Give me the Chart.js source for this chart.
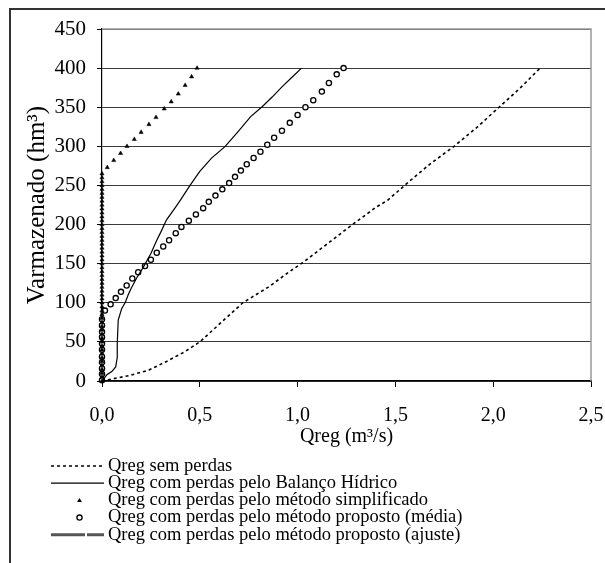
<!DOCTYPE html>
<html>
<head>
<meta charset="utf-8">
<script src="https://cdn.jsdelivr.net/npm/chart.js@4.4.1/dist/chart.umd.min.js"></script>
<style>
  html, body { margin: 0; padding: 0; background: #fff; }
  #wrap { width: 605px; height: 563px; position: relative; }
</style>
</head>
<body>
<div id="wrap"><canvas id="chart" width="605" height="563"></canvas></div>
<script>
// Qreg (m3/s) x Varmazenado (hm3)
const qSemPerdas = [0, 0.04, 0.14, 0.24, 0.33, 0.42, 0.50, 0.61, 0.72, 0.85, 0.96, 1.03, 1.15, 1.27, 1.40, 1.46, 1.57, 1.68, 1.80, 1.92, 2.03, 2.14, 2.24];
const vSemPerdas = [0, 2, 7, 14, 25, 37, 50, 75, 100, 120, 140, 152, 175, 198, 222, 231, 255, 278, 300, 325, 350, 375, 400];

const qBalanco = [0, 0.01, 0.025, 0.05, 0.07, 0.078, 0.078, 0.083, 0.10, 0.12, 0.135, 0.15, 0.18, 0.21, 0.25, 0.28, 0.30, 0.33, 0.37, 0.40, 0.45, 0.50, 0.56, 0.63, 0.70, 0.76, 0.82, 0.87, 0.92, 0.97, 1.02];
const vBalanco = [0, 3, 8, 12, 18, 30, 48, 78, 92, 101, 111, 119, 133, 145, 163, 180, 190, 206, 220, 231, 250, 268, 285, 300, 320, 338, 351, 363, 376, 388, 400];

const qSimplificado = [0, 0, 0, 0, 0, 0, 0, 0, 0, 0, 0, 0, 0, 0, 0, 0, 0, 0, 0, 0, 0, 0, 0, 0, 0, 0, 0, 0, 0, 0, 0, 0, 0, 0, 0, 0, 0, 0, 0, 0, 0, 0, 0, 0, 0, 0, 0, 0, 0, 0, 0, 0, 0, 0,
  0.027, 0.06, 0.095, 0.128, 0.165, 0.20, 0.24, 0.276, 0.318, 0.354, 0.39, 0.425, 0.458, 0.486];
const vSimplificado = [0, 5, 10, 15, 20, 25, 30, 35, 40, 45, 50, 55, 60, 65, 70, 75, 80, 85, 90, 95, 100, 105, 110, 115, 120, 125, 130, 135, 140, 145, 150, 155, 160, 165, 170, 175, 180, 185, 190, 195, 200, 205, 210, 215, 220, 225, 230, 235, 240, 245, 250, 255, 260, 265,
  273, 282, 291, 300, 309, 318, 328, 337, 348, 357, 367, 378, 389, 400];

const qMedia = [0, 0, 0, 0, 0, 0, 0, 0, 0, 0, 0,
  0.015, 0.044, 0.07, 0.097, 0.126, 0.155, 0.185, 0.22, 0.25, 0.28, 0.313, 0.343, 0.377, 0.406, 0.444, 0.48, 0.517, 0.546, 0.58, 0.615, 0.65,
  0.68, 0.71, 0.74, 0.775, 0.81, 0.845, 0.88, 0.92, 0.96, 1.0, 1.04, 1.08, 1.124, 1.16, 1.20, 1.235];
const vMedia = [1, 9, 16, 24, 31, 40, 48, 56, 63, 71, 79,
  90, 98, 106, 114, 122, 131, 139, 147, 155, 164, 172, 180, 189, 197, 205, 213, 221, 229, 237, 245, 253,
  261, 269, 277, 285, 293, 302, 311, 320, 330, 340, 350, 359, 370, 381, 392, 400];

const qAjuste = [0, 0];
const vAjuste = [0, 90];

const seriesLabels = [
  "Qreg sem perdas",
  "Qreg com perdas pelo Balanço Hídrico",
  "Qreg com perdas pelo método simplificado",
  "Qreg com perdas pelo método proposto (média)",
  "Qreg com perdas pelo método proposto (ajuste)"
];

const xTicks = [0, 0.5, 1.0, 1.5, 2.0, 2.5];
const yTicks = [0, 50, 100, 150, 200, 250, 300, 350, 400, 450];

const serif = "'Liberation Serif', 'Times New Roman', serif";

function pairs(xs, ys) {
  return xs.map((x, i) => ({ x: x, y: ys[i] }));
}

// outer frame + plot border
const framePlugin = {
  id: "frame",
  beforeDraw(chart) {
    const ctx = chart.ctx;
    ctx.save();
    ctx.fillStyle = "#fff";
    ctx.fillRect(0, 0, chart.width, chart.height);
    ctx.strokeStyle = "#333";
    ctx.lineWidth = 2;
    ctx.beginPath();
    ctx.moveTo(10, chart.height + 5);
    ctx.lineTo(10, 9);
    ctx.lineTo(chart.width + 5, 9);
    ctx.stroke();
    ctx.restore();
  },
  afterDraw(chart) {
    const a = chart.chartArea;
    const ctx = chart.ctx;
    ctx.save();
    ctx.strokeStyle = "#999";
    ctx.lineWidth = 1.5;
    ctx.beginPath();
    ctx.moveTo(a.left, a.top);
    ctx.lineTo(a.right, a.top);
    ctx.lineTo(a.right, a.bottom);
    ctx.stroke();
    ctx.restore();
  }
};

// legend one entry per row, under the x title
const legendPlugin = {
  id: "rowLegend",
  afterDraw(chart) {
    const ctx = chart.ctx;
    const x0 = 51, x1 = 104, tx = 108;
    const cx = (x0 + x1) / 2 + 2;
    let y = 466;
    ctx.save();
    ctx.font = "18.5px " + serif;
    ctx.textBaseline = "middle";
    chart.data.datasets.forEach((ds) => {
      if (ds.showLine) {
        ctx.strokeStyle = ds.borderColor;
        ctx.lineWidth = ds.borderWidth;
        ctx.setLineDash(ds.borderDash || []);
        ctx.beginPath();
        ctx.moveTo(x0, y);
        ctx.lineTo(x1, y);
        ctx.stroke();
        ctx.setLineDash([]);
      } else {
        ctx.fillStyle = ds.pointBackgroundColor;
        ctx.strokeStyle = ds.pointBorderColor;
        ctx.lineWidth = ds.pointBorderWidth;
        ctx.beginPath();
        if (ds.pointStyle === "triangle") {
          const r = ds.pointRadius;
          ctx.moveTo(cx, y - r);
          ctx.lineTo(cx + r, y + r * 0.7);
          ctx.lineTo(cx - r, y + r * 0.7);
          ctx.closePath();
          ctx.fill();
        } else {
          ctx.arc(cx, y, ds.pointRadius, 0, Math.PI * 2);
          ctx.fill();
          ctx.stroke();
        }
      }
      ctx.fillStyle = "#000";
      ctx.fillText(ds.label, tx, y);
      y += 17.2;
    });
    ctx.restore();
  }
};

new Chart(document.getElementById("chart"), {
  type: "scatter",
  data: {
    datasets: [
      {
        label: seriesLabels[0],
        data: pairs(qSemPerdas, vSemPerdas),
        showLine: true,
        borderColor: "#000",
        borderWidth: 1.6,
        borderDash: [3, 3],
        pointRadius: 0,
        clip: false
      },
      {
        label: seriesLabels[1],
        data: pairs(qBalanco, vBalanco),
        showLine: true,
        borderColor: "#000",
        borderWidth: 1.2,
        pointRadius: 0,
        clip: false
      },
      {
        label: seriesLabels[2],
        data: pairs(qSimplificado, vSimplificado),
        showLine: false,
        pointStyle: "triangle",
        pointRadius: 2.4,
        pointBackgroundColor: "#000",
        pointBorderColor: "#000",
        pointBorderWidth: 0.5,
        clip: false
      },
      {
        label: seriesLabels[3],
        data: pairs(qMedia, vMedia),
        showLine: false,
        pointStyle: "circle",
        pointRadius: 2.6,
        pointBackgroundColor: "#fff",
        pointBorderColor: "#000",
        pointBorderWidth: 1.3,
        clip: false
      },
      {
        label: seriesLabels[4],
        data: pairs(qAjuste, vAjuste),
        showLine: true,
        borderColor: "#555",
        borderWidth: 3,
        borderDash: [34, 2],
        pointRadius: 0,
        clip: false
      }
    ]
  },
  options: {
    responsive: false,
    animation: false,
    events: [],
    layout: { padding: { left: 0, top: 29, right: 0, bottom: 100 } },
    plugins: {
      legend: { display: false },
      tooltip: { enabled: false }
    },
    scales: {
      x: {
        type: "linear",
        min: 0,
        max: 2.5,
        afterBuildTicks(scale) {
          scale.ticks = xTicks.map((v) => ({ value: v }));
        },
        afterFit(scale) {
          scale.height = 82;
          scale.paddingLeft = 0;
          scale.paddingRight = 14;
        },
        grid: { drawOnChartArea: false, drawTicks: true, tickLength: 6, tickColor: "#000" },
        border: { color: "#000", width: 1.2 },
        ticks: {
          color: "#000",
          padding: 17,
          maxRotation: 0,
          font: { family: serif, size: 20 },
          callback(value) { return Number(value).toFixed(1).replace(".", ","); }
        },
        title: {
          display: true,
          text: "Qreg (m³/s)",
          color: "#000",
          font: { family: serif, size: 20 },
          padding: { top: 0, bottom: 14 }
        }
      },
      y: {
        type: "linear",
        min: 0,
        max: 450,
        afterBuildTicks(scale) {
          scale.ticks = yTicks.map((v) => ({ value: v }));
        },
        afterFit(scale) {
          scale.width = 102;
          scale.paddingTop = 0;
          scale.paddingBottom = 0;
        },
        grid: { color: "#3a3a3a", lineWidth: 1, drawTicks: true, tickLength: 5, tickColor: "#000" },
        border: { color: "#000", width: 1.2 },
        ticks: {
          color: "#000",
          padding: 11,
          font: { family: serif, size: 21 }
        },
        title: {
          display: true,
          text: "Varmazenado (hm³)",
          color: "#000",
          font: { family: serif, size: 25 },
          padding: { top: 22, bottom: 0 }
        }
      }
    }
  },
  plugins: [framePlugin, legendPlugin]
});
</script>
</body>
</html>
